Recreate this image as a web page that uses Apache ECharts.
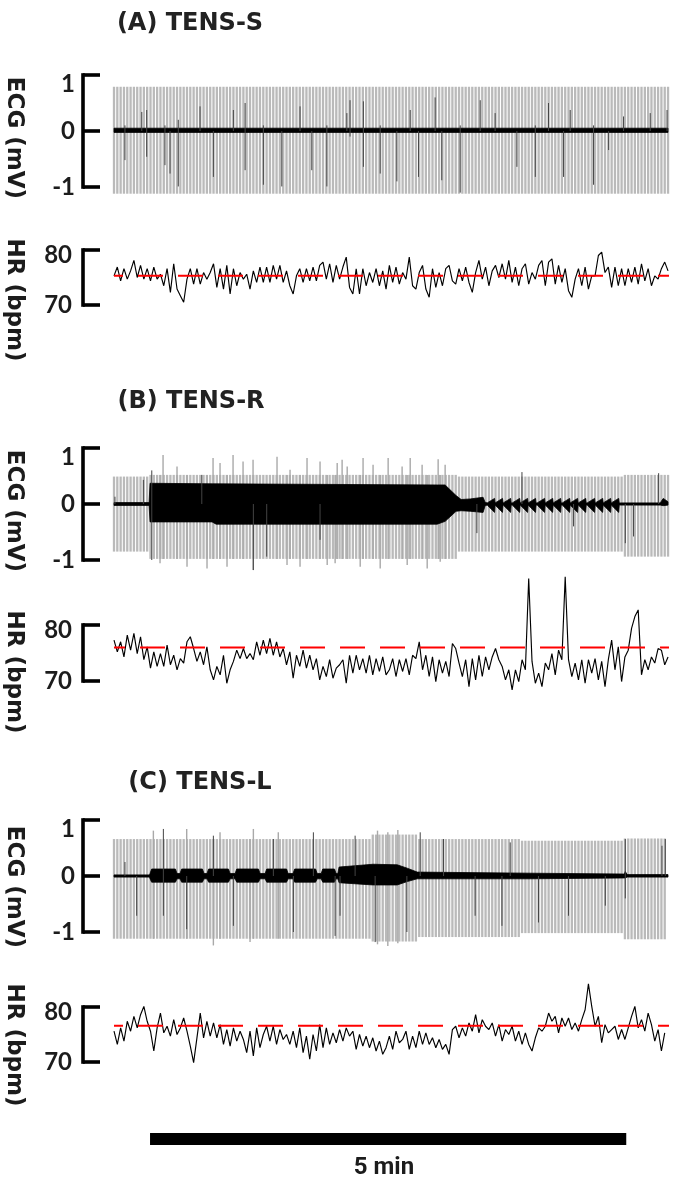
<!DOCTYPE html>
<html><head><meta charset="utf-8">
<script src="https://cdn.jsdelivr.net/npm/echarts@6/dist/echarts.min.js"></script>
<style>html,body{margin:0;padding:0;background:#fff}#c{width:685px;height:1189px}</style>
</head><body><div id="c"></div>
<script>
// ---------------- DATA ----------------
const T_MAX = 349;            // seconds shown on the time axis
const HR_DT = 2.09;           // seconds between HR samples
const SCALE_START = 22.7;     // s, start of the 5 min scale bar
const SCALE_LEN = 300;        // s (5 min)

const ecgTicks = [-1, 0, 1];
const hrTicks = [70, 80];

const hrA = [75.3,76.9,74.4,76.6,74.7,76.2,78.1,75.0,77.2,74.7,76.6,74.4,76.9,74.7,75.6,73.5,76.6,72.3,77.5,72.9,
71.7,70.5,74.7,76.6,73.8,76.6,73.8,75.9,74.7,75.9,77.5,73.2,76.6,72.9,77.2,72.0,76.6,73.5,75.9,74.7,
75.6,72.9,76.2,74.1,76.9,74.1,76.9,74.1,77.2,74.7,77.2,74.1,76.2,73.5,72.0,75.3,76.6,74.1,76.6,74.4,
76.9,74.4,77.2,77.8,74.7,77.5,74.1,77.2,74.7,76.9,78.7,73.2,72.0,76.6,72.0,76.6,73.5,75.9,74.1,76.6,
73.5,76.2,72.9,
77.2,74.1,76.9,73.8,75.9,74.7,78.7,73.5,72.9,75.9,77.2,72.9,71.4,76.6,73.2,75.9,73.5,76.6,77.2,74.4,
73.8,76.6,74.4,76.9,74.1,72.3,75.9,78.1,74.7,76.9,73.5,76.2,77.2,75.0,77.5,74.7,78.1,74.1,76.9,73.5,
76.6,77.5,73.8,75.9,74.7,77.2,78.1,73.5,77.8,78.4,73.8,77.2,74.1,76.6,72.6,71.4,74.7,76.6,73.5,76.9,
72.9,75.3,75.3,79.0,79.6,75.9,76.9,73.2,76.9,73.5,76.6,73.5,76.6,74.1,76.9,73.8,77.5,74.4,76.6,73.5,
75.3,74.7,76.6,77.8,76.2];

const hrB = [77.3,75.2,77.0,74.3,78.2,75.5,78.5,74.9,77.9,73.8,76.1,72.3,75.2,72.6,74.9,72.6,76.4,72.9,74.6,72.0,
74.0,73.2,77.0,77.9,75.8,73.5,75.2,72.9,76.1,72.0,70.2,72.6,71.1,74.6,69.6,72.0,73.5,75.5,74.0,75.8,
74.0,74.9,73.8,77.0,74.6,77.3,74.9,77.6,74.6,77.0,74.3,75.8,72.9,75.2,70.5,74.6,72.6,75.5,72.3,74.6,
72.0,74.0,70.2,72.6,70.8,73.8,70.5,72.3,72.9,73.8,69.6,74.6,71.4,74.6,72.0,74.0,71.4,74.6,71.1,74.0,
71.7,74.3,71.1,
72.0,74.0,70.8,73.8,71.7,74.0,71.1,74.6,74.0,77.0,72.0,74.6,70.8,74.3,69.9,73.8,71.4,73.5,70.8,76.7,
75.8,73.2,70.8,73.8,69.0,74.0,70.2,74.6,70.8,74.3,72.0,74.3,75.8,73.8,72.6,70.2,72.0,68.4,72.0,69.9,
73.8,72.0,88.3,73.5,69.6,71.4,69.0,73.2,72.0,74.9,71.1,75.5,73.8,88.6,73.8,70.8,73.2,70.2,73.8,69.6,
73.8,71.4,74.0,70.2,73.5,69.0,73.8,77.3,72.0,76.1,69.9,74.3,75.5,79.4,81.5,82.7,71.1,73.8,72.0,74.3,
73.2,75.8,75.5,72.9,74.3];

const hrC = [75.6,73.2,76.2,73.8,77.4,75.6,78.3,76.2,78.6,80.1,77.4,75.6,72.0,76.2,78.9,75.3,76.5,74.7,77.7,75.0,
76.2,78.0,75.6,72.9,69.9,74.4,78.9,74.4,77.4,74.7,77.1,74.4,76.8,73.2,75.9,72.9,76.2,73.8,75.6,74.1,
71.7,75.6,71.1,76.2,72.6,75.0,76.5,73.8,76.5,73.2,75.9,74.1,75.0,73.2,75.6,72.6,76.2,71.7,74.7,70.5,
75.0,72.0,76.8,72.6,76.2,73.2,75.3,73.5,75.9,73.8,76.2,74.7,75.6,72.3,75.0,72.9,74.7,72.6,74.4,72.0,
73.8,71.4,72.6,
74.7,72.3,75.6,73.5,74.1,75.6,72.3,74.7,72.6,75.6,73.2,75.3,73.2,74.4,72.6,74.1,72.3,73.2,71.4,75.9,
76.5,74.4,76.2,74.7,77.1,75.6,78.6,75.3,77.7,76.5,75.9,77.1,74.7,76.8,73.8,75.9,75.0,76.5,73.8,75.6,
73.2,75.3,73.2,72.0,74.4,76.2,75.6,76.5,78.9,77.4,78.3,75.3,78.0,76.5,78.0,75.9,77.1,75.6,77.7,79.5,
84.2,80.1,76.5,78.3,73.5,76.8,75.3,75.9,76.5,74.1,75.9,74.1,76.2,78.3,80.1,76.2,77.7,75.6,78.9,76.8,
73.8,75.9,72.0,75.3];

const hrRefA = 75.3, hrRefB = 76.0, hrRefC = 76.6;   // red dashed reference (bpm)

// ECG beat amplitude segments: [tStart, tEnd, top(mV), bottom(mV)]
const ecgSegA = [[0, 350, 0.79, -1.12]];
const ecgSegB = [[0, 22.5, 0.49, -0.85], [22.5, 216, 0.52, -0.98], [216, 320, 0.49, -0.85], [320, 350, 0.52, -0.94]];
const ecgSegC = [[0, 163, 0.66, -1.12], [163, 191, 0.74, -1.17], [191, 256, 0.66, -1.09], [256, 321, 0.63, -1.02], [321, 350, 0.67, -1.13]];

// extra (taller / deeper) grey beats: [t, top, bottom]
const greyExtraA = [];
const greyExtraB = [[29.0,0.52,-1.06],[30.9,0.875,-0.98],[39.7,0.67,-0.98],[46.0,0.52,-1.12],[58.6,0.52,-1.15],[62.4,0.82,-0.98],
[66.8,0.73,-0.98],[71.2,0.52,-1.12],[75.0,0.875,-0.98],[81.3,0.76,-0.98],[87.6,0.79,-1.18],[102.7,0.845,-0.98],[109.0,0.52,-1.09],
[110.9,0.61,-0.98],[117.2,0.52,-1.12],[121.6,0.82,-0.98],[129.8,0.76,-0.98],[134.3,0.52,-1.09],[139.3,0.52,-1.06],[140.6,0.73,-0.98],
[143.7,0.79,-0.98],[146.9,0.67,-0.98],[155.1,0.52,-1.12],[156.9,0.82,-0.98],[163.2,0.70,-0.98],[167.7,0.52,-1.15],[172.7,0.82,-0.98],
[181.5,0.67,-0.98],[184.7,0.52,-1.09],[186.6,0.82,-0.98],[194.1,0.70,-0.98],[197.3,0.52,-1.15],[204.2,0.80,-0.98],[205.5,0.52,-1.03],[208.6,0.70,-0.98]];
const greyExtraC = [[24.8,0.81,-1.12],[45.8,0.84,-1.12],[62.6,0.66,-1.24],[66.8,0.78,-1.12],[85.7,0.66,-1.18],[87.8,0.84,-1.12],[103.5,0.78,-1.12],
[166.0,0.81,-1.22],[172.5,0.78,-1.25],[178.8,0.82,-1.2]];

// darker beats: [t, top, bottom]
const darkA = [[6.9,0.1,-0.52],[17.5,0.34,0],[20.6,0.375,-0.46],[32.1,0.1,-0.61],[35.3,0,-0.76],[40.5,0.2,-0.99],[54.2,0.44,0],
[62.6,0,-0.82],[75.2,0.375,0],[82.6,0.5,-0.7],[94.1,0.1,-0.96],[105.7,0,-0.99],[117.2,0.44,0],[124.6,0,-0.7],[134.1,0.1,-0.99],
[146.7,0.32,0],[148.7,0.55,-0.1],[157.1,0.53,-0.64],[167.7,0.1,-0.76],[178.2,0,-0.9],[186.6,0.375,0],[191.8,0,-0.82],[202.3,0.6,0],
[206.5,0,-0.88],[218.1,0.1,-1.1],[230.7,0.55,0],[240.1,0.32,0],[253.8,0,-0.64],[265.4,0.1,-0.82],[273.7,0.5,0],[283.2,0,-0.82],
[287.4,0.375,0],[302.1,0.1,-0.96],[311.6,0,-0.34],[321.0,0.26,0],[337.8,0.32,0],[348.4,0.375,0]];
const darkB = [[0.6,0.13,0],[18.5,0.43,0],[23.8,0.6,-1.0],[55.3,0.52,0],[87.8,0,-1.18],[96.2,0,-0.94],[129.8,0,-0.64],
[228.6,0,-0.52],[257.0,0.57,0],[289.5,0,-0.4],[322.1,0,-0.7],[327.3,0,-0.58],[343.1,0.55,0]];
const darkC = [[6.9,0.25,0],[14.3,0,-0.71],[31.1,0.84,-0.71],[45.8,0,-0.95],[62.6,0.72,0],[75.2,0,-0.89],[100.4,0.66,0],
[113.0,0,-1.0],[125.6,0.78,0],[139.3,0,-1.07],[142.4,0,-0.71],[151.9,0.72,0],[164.5,0,-1.18],[184.5,0,-1.0],[192.9,0.78,0],
[207.6,0.66,0],[227.5,0,-0.71],[244.4,0,-0.89],[249.6,0.6,0],[267.4,0,-0.83],[286.3,0,-0.71],[309.5,0,-0.53],[322.1,0.66,-0.4],
[345.2,0.54,0],[347.3,0.66,0]];

// TENS artefact / baseline envelope: [t, top, bottom]
const envA = [[0,0.05,-0.025],[349,0.05,-0.025]];
const envBHead = [[0,0.025,-0.025],[22.1,0.025,-0.025],[22.7,0.37,-0.32],[61.8,0.36,-0.32],[64.3,0.36,-0.36],[203.6,0.34,-0.36],
[208.6,0.34,-0.31],[215.5,0.15,-0.13],[218.7,0.08,-0.12],[224.4,0.09,-0.13],[232.5,0.12,-0.15],[233.8,0.03,-0.03]];
const burstStartsB = [235.1,240.1,245.2,250.9,255.9,260.9,266.6,271.7,276.7,282.4,287.4,292.5,298.1,303.2,308.2,313.3];
const burstLenB = 5.0, burstTopB = 0.1, burstBotB = -0.15;
const envBTail = [[318.9,0.02,-0.02],[344.1,0.02,-0.02],[346.0,0.1,-0.03],[349,0.04,-0.02]];
const envCHead = [[0,0.02,-0.02],[22.3,0.02,-0.02]];
const blocksC = [[22.7,39.7],[41.6,56.7],[58.6,73.1],[76.3,92.0],[95.2,109.7],[112.8,128.0],[130.5,139.9]];
const blockTopC = 0.125, blockBotC = -0.11, gapTopC = 0.045, gapBotC = -0.05;
const envCTail = [[141.0,0.045,-0.05],[141.8,0.16,-0.12],[163.2,0.21,-0.16],[178.4,0.2,-0.16],[184.7,0.14,-0.1],[191.0,0.07,-0.05],
[262.2,0.05,-0.05],[321.5,0.035,-0.035],[322.1,0.08,-0.035],[323.3,0.025,-0.02],[349,0.025,-0.02]];

// ---------------- BUILD ----------------
function buildEnvB() {
  const e = envBHead.slice();
  burstStartsB.forEach(s => {
    e.push([s, 0.02, -0.02]);
    e.push([s + burstLenB - 0.35, burstTopB, burstBotB]);
    e.push([s + burstLenB, 0.02, -0.02]);
  });
  return e.concat(envBTail);
}
function buildEnvC() {
  const e = envCHead.slice();
  blocksC.forEach(([s, t]) => {
    e.push([s, gapTopC, gapBotC]);
    e.push([s + 1, blockTopC, blockBotC]);
    e.push([t - 1, blockTopC, blockBotC]);
    e.push([t, gapTopC, gapBotC]);
  });
  return e.concat(envCTail);
}
function buildBeats(hr, seg) {
  return hr.map((v, i) => {
    const t = i * HR_DT;
    const s = seg.find(g => t >= g[0] && t < g[1]) || seg[seg.length - 1];
    return [t, s[2], s[3]];
  });
}

const panels = [
  {title:'(A) TENS-S', tx:190, ty:24, ecgPx:[75,187], hrPx:[250,305], ecgLy:138, hrLy:300, hr:hrA, ref:hrRefA, dashOff:16,
   seg:ecgSegA, extra:greyExtraA, dark:darkA, env:envA},
  {title:'(B) TENS-R', tx:191, ty:402, ecgPx:[448,560], hrPx:[625,681], ecgLy:511, hrLy:672, hr:hrB, ref:hrRefB, dashOff:14,
   seg:ecgSegB, extra:greyExtraB, dark:darkB, env:buildEnvB()},
  {title:'(C) TENS-L', tx:200, ty:783, ecgPx:[820,932], hrPx:[1007,1062], ecgLy:887, hrLy:1045, hr:hrC, ref:hrRefC, dashOff:16,
   seg:ecgSegC, extra:greyExtraC, dark:darkC, env:buildEnvC()}
];

const PLOT_L = 114, PLOT_W = 554, AX_X = 83;
const ECG_MAX = 1.3, ECG_MIN = -1.5, HR_MAX = 95, HR_MIN = 60;
const NUM_FONT = 'Lato';
const TXT_FONT = '"DejaVu Sans"';

const grid = [], xAxis = [], yAxis = [], series = [], graphic = [];

function lineItem(color, width) {
  return function (params, api) {
    const p1 = api.coord([api.value(0), api.value(1)]);
    const p2 = api.coord([api.value(0), api.value(2)]);
    return {type:'line', shape:{x1:p1[0], y1:p1[1], x2:p2[0], y2:p2[1]}, style:{stroke:color, lineWidth:width}};
  };
}
function addGrid(g, xa, ya) {
  grid.push(g); const i = grid.length - 1;
  xa.gridIndex = i; ya.gridIndex = i;
  xAxis.push(xa); yAxis.push(ya);
  return i;
}
function hiddenX() { return {type:'value', min:0, max:T_MAX, show:false}; }
function bracketAxis(min, max, interval, shift, margin) {
  return {type:'value', min, max, interval, position:'left',
    axisLine:{show:true, onZero:false, lineStyle:{color:'#000', width:3.6, cap:'square'}},
    axisTick:{show:true, inside:true, length:17, lineStyle:{color:'#000', width:3.6}},
    splitLine:{show:false},
    axisLabel:{show:true, margin, color:'#1c1c1c', fontFamily:NUM_FONT, fontWeight:'bold', fontSize:24,
      formatter: v => (v === max ? '{t|' + v + '}' : '{n|' + v + '}'),
      rich:{t:{padding:[shift*2,0,0,0], fontFamily:NUM_FONT, fontWeight:'bold', fontSize:24, color:'#1c1c1c'},
            n:{fontFamily:NUM_FONT, fontWeight:'bold', fontSize:24, color:'#1c1c1c'}}}};
}

panels.forEach(p => {
  // ECG bracket axis
  addGrid({left:AX_X, top:p.ecgPx[0], height:p.ecgPx[1]-p.ecgPx[0], width:60},
    {type:'value', min:0, max:1, show:false}, bracketAxis(ecgTicks[0], ecgTicks[2], 1, 9, 8));
  // ECG data
  const eppu = (p.ecgPx[1]-p.ecgPx[0]) / (ecgTicks[2]-ecgTicks[0]);
  const ge = addGrid({left:PLOT_L, width:PLOT_W, top:p.ecgPx[0]-(ECG_MAX-1)*eppu, height:(ECG_MAX-ECG_MIN)*eppu},
    hiddenX(), {type:'value', min:ECG_MIN, max:ECG_MAX, show:false});
  const beats = buildBeats(p.hr, p.seg);
  series.push({type:'custom', xAxisIndex:ge, yAxisIndex:ge, data:beats, encode:{x:0, y:[1,2]},
    renderItem:lineItem('#bababa', 2.3), silent:true, z:1});
  if (p.extra.length) series.push({type:'custom', xAxisIndex:ge, yAxisIndex:ge, data:p.extra, encode:{x:0, y:[1,2]},
    renderItem:lineItem('#a9a9a9', 1.4), silent:true, z:2});
  const env = p.env;
  series.push({type:'custom', xAxisIndex:ge, yAxisIndex:ge, data:[[0, 0, 0]], encode:{x:0, y:1}, silent:true, z:3,
    renderItem:(params, api) => {
      const up = env.map(e => api.coord([e[0], e[1]]));
      const lo = env.map(e => api.coord([e[0], e[2]])).reverse();
      return {type:'polygon', shape:{points:up.concat(lo)}, style:{fill:'#000', stroke:'#000', lineWidth:0.8}};
    }});
  series.push({type:'custom', xAxisIndex:ge, yAxisIndex:ge, data:p.dark, encode:{x:0, y:[1,2]},
    renderItem:lineItem('#444444', 1), silent:true, z:4});

  // HR bracket axis
  addGrid({left:AX_X, top:p.hrPx[0], height:p.hrPx[1]-p.hrPx[0], width:60},
    {type:'value', min:0, max:1, show:false}, bracketAxis(hrTicks[0], hrTicks[1], 10, 5, 11));
  // HR data
  const hppu = (p.hrPx[1]-p.hrPx[0]) / (hrTicks[1]-hrTicks[0]);
  const gh = addGrid({left:PLOT_L, width:PLOT_W, top:p.hrPx[0]-(HR_MAX-80)*hppu, height:(HR_MAX-HR_MIN)*hppu},
    hiddenX(), {type:'value', min:HR_MIN, max:HR_MAX, show:false});
  series.push({type:'line', xAxisIndex:gh, yAxisIndex:gh, data:p.hr.map((v,i)=>[i*HR_DT, v]),
    symbol:'none', lineStyle:{color:'#000', width:1.15}, silent:true, z:5, animation:false});
  series.push({type:'line', xAxisIndex:gh, yAxisIndex:gh, data:[[0,p.ref],[T_MAX+3.5,p.ref]], clip:false,
    symbol:'none', lineStyle:{color:'#ff0000', width:2, type:[25,15], dashOffset:p.dashOff}, silent:true, z:6, animation:false});

  graphic.push({type:'text', x:p.tx, y:p.ty, style:{text:p.title, fontFamily:TXT_FONT, fontWeight:'bold', fontSize:24,
    fill:'#222', align:'center', verticalAlign:'middle'}});
  graphic.push({type:'text', x:14, y:p.ecgLy, rotation:-Math.PI/2, style:{text:'ECG (mV)', fontFamily:TXT_FONT, fontWeight:'bold',
    fontSize:23, fill:'#1c1c1c', align:'center', verticalAlign:'middle'}});
  graphic.push({type:'text', x:14, y:p.hrLy, rotation:-Math.PI/2, style:{text:'HR (bpm)', fontFamily:TXT_FONT, fontWeight:'bold',
    fontSize:23, fill:'#1c1c1c', align:'center', verticalAlign:'middle'}});
});

// scale bar (5 min) through the same time scale
const gs = addGrid({left:PLOT_L, width:PLOT_W, top:1133, height:12}, hiddenX(), {type:'value', min:0, max:1, show:false});
series.push({type:'custom', xAxisIndex:gs, yAxisIndex:gs, data:[[SCALE_START, SCALE_START+SCALE_LEN]], encode:{x:[0,1]}, silent:true,
  renderItem:(params, api) => {
    const a = api.coord([api.value(0), 1]), b = api.coord([api.value(1), 0]);
    return {type:'rect', shape:{x:a[0], y:a[1], width:b[0]-a[0], height:b[1]-a[1]}, style:{fill:'#000'}};
  }});
graphic.push({type:'text', x:384, y:1168, style:{text:'5 min', fontFamily:'Roboto', fontWeight:'bold', fontSize:24,
  fill:'#1c1c1c', align:'center', verticalAlign:'middle'}});

const chart = echarts.init(document.getElementById('c'), null, {renderer:'canvas'});
chart.setOption({animation:false, backgroundColor:'#fff', grid, xAxis, yAxis, series, graphic});
</script>
</body></html>
